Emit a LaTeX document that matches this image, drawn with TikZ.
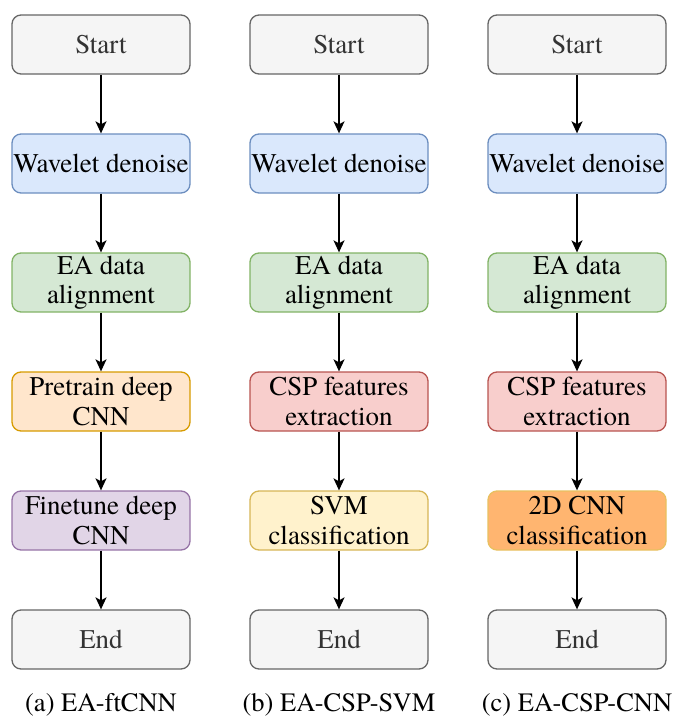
\documentclass[tikz,border=0pt]{standalone}
\usepackage{fontspec}
\setmainfont{texgyretermes-regular.otf}
\usetikzlibrary{arrows.meta}

% fill / stroke pairs for the process boxes
\definecolor{grayF}{HTML}{F5F5F5}\definecolor{grayS}{HTML}{666666}
\definecolor{blueF}{HTML}{DAE8FC}\definecolor{blueS}{HTML}{6C8EBF}
\definecolor{greenF}{HTML}{D5E8D4}\definecolor{greenS}{HTML}{82B366}
\definecolor{orangeF}{HTML}{FFE6CC}\definecolor{orangeS}{HTML}{D79B00}
\definecolor{purpleF}{HTML}{E1D5E7}\definecolor{purpleS}{HTML}{9673A6}
\definecolor{redF}{HTML}{F8CECC}\definecolor{redS}{HTML}{B85450}
\definecolor{yellowF}{HTML}{FFF2CC}\definecolor{yellowS}{HTML}{D6B656}
\definecolor{deeporangeF}{HTML}{FFB570}\definecolor{deeporangeS}{HTML}{E8C060}
\definecolor{termtext}{HTML}{333333}

\tikzset{
  box/.style={draw, rounded corners=9pt, line width=1.3pt, minimum width=178pt,
    minimum height=59pt, inner sep=0pt, align=center,
    font=\fontsize{27}{29.5}\selectfont},
  term/.style={box, fill=grayF, draw=grayS, text=termtext},
  bluebox/.style={box, fill=blueF, draw=blueS},
  greenbox/.style={box, fill=greenF, draw=greenS},
  orangebox/.style={box, fill=orangeF, draw=orangeS},
  purplebox/.style={box, fill=purpleF, draw=purpleS},
  redbox/.style={box, fill=redF, draw=redS},
  yellowbox/.style={box, fill=yellowF, draw=yellowS},
  deeporangebox/.style={box, fill=deeporangeF, draw=deeporangeS},
  flow/.style={line width=1.5pt, -{Stealth[length=12pt, width=11pt, inset=3pt]}},
  caption/.style={font=\fontsize{26.5}{28.5}\selectfont, inner sep=0pt}
}

\begin{document}
\begin{tikzpicture}[x=1pt, y=-1pt]
  \useasboundingbox (0,0) rectangle (675,720);

  % column (a): EA-ftCNN
  \node[term]       (a1) at (101,44.5)  {Start};
  \node[bluebox]    (a2) at (101,163.5) {Wavelet denoise};
  \node[greenbox]   (a3) at (101,282.5) {EA data\\alignment};
  \node[orangebox]  (a4) at (101,401.5) {Pretrain deep\\CNN};
  \node[purplebox]  (a5) at (101,520.5) {Finetune deep\\CNN};
  \node[term]       (a6) at (101,639.5) {End};
  \node[caption]    (ca) at (101,705)   {(a) EA-ftCNN};

  % column (b): EA-CSP-SVM
  \node[term]       (b1) at (339,44.5)  {Start};
  \node[bluebox]    (b2) at (339,163.5) {Wavelet denoise};
  \node[greenbox]   (b3) at (339,282.5) {EA data\\alignment};
  \node[redbox]     (b4) at (339,401.5) {CSP features\\extraction};
  \node[yellowbox]  (b5) at (339,520.5) {SVM\\classification};
  \node[term]       (b6) at (339,639.5) {End};
  \node[caption]    (cb) at (339,705)   {(b) EA-CSP-SVM};

  % column (c): EA-CSP-CNN
  \node[term]          (c1) at (577,44.5)  {Start};
  \node[bluebox]       (c2) at (577,163.5) {Wavelet denoise};
  \node[greenbox]      (c3) at (577,282.5) {EA data\\alignment};
  \node[redbox]        (c4) at (577,401.5) {CSP features\\extraction};
  \node[deeporangebox] (c5) at (577,520.5) {2D CNN\\classification};
  \node[term]          (c6) at (577,639.5) {End};
  \node[caption]       (cc) at (577,705)   {(c) EA-CSP-CNN};

  \foreach \c in {a,b,c}{
    \foreach \i [evaluate=\i as \j using int(\i+1)] in {1,...,5}{
      \draw[flow] (\c\i.south) -- (\c\j.north);
    }
  }
\end{tikzpicture}
\end{document}
